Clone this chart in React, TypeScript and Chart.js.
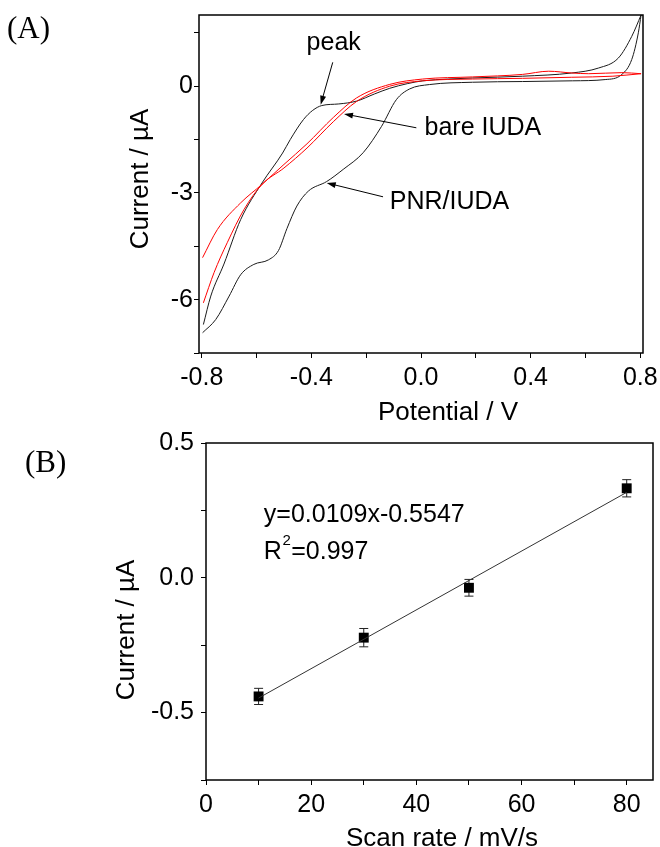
import React, { useEffect, useRef } from 'react';
import { Chart, registerables } from 'chart.js';

Chart.register(...registerables);

const SANS = '"Liberation Sans", Arial, Helvetica, sans-serif';
const SERIF = '"Liberation Serif", "Times New Roman", serif';

// ---------------- Panel (A): cyclic voltammograms ----------------
const bareFwdPotential = [-0.797, -0.743, -0.658, -0.58, -0.5, -0.416, -0.32, -0.235, -0.114, 0.006, 0.188, 0.37, 0.466, 0.55, 0.612, 0.733, 0.803];
const bareFwdCurrent = [-4.82, -4.03, -3.28, -2.76, -2.2, -1.62, -0.88, -0.33, 0.05, 0.2, 0.26, 0.33, 0.42, 0.37, 0.35, 0.38, 0.35];
const bareRevPotential = [-0.794, -0.755, -0.707, -0.646, -0.58, -0.5, -0.416, -0.32, -0.235, -0.114, 0.006, 0.188, 0.37, 0.55, 0.7, 0.803];
const bareRevCurrent = [-6.09, -5.24, -4.4, -3.47, -2.76, -2.3, -1.74, -1.0, -0.43, 0.0, 0.15, 0.2, 0.22, 0.25, 0.28, 0.35];

const pnrPeakPotential = [-0.794, -0.767, -0.719, -0.658, -0.58, -0.505, -0.477, -0.429, -0.395, -0.362, -0.3, -0.235, -0.17, -0.114, -0.05, 0.007, 0.1, 0.188, 0.37, 0.55, 0.648, 0.72, 0.769, 0.803];
const pnrPeakCurrent = [-6.7, -5.9, -5.0, -3.75, -2.72, -1.88, -1.5, -0.94, -0.68, -0.545, -0.5, -0.42, -0.22, -0.06, 0.07, 0.15, 0.2, 0.23, 0.28, 0.37, 0.51, 0.79, 1.4, 2.0];

const pnrWavePotential = [-0.797, -0.749, -0.7, -0.658, -0.61, -0.556, -0.52, -0.489, -0.453, -0.411, -0.344, -0.284, -0.211, -0.144, -0.09, -0.042, 0.031, 0.188, 0.37, 0.552, 0.672, 0.733, 0.769, 0.793, 0.803];
const pnrWaveCurrent = [-6.93, -6.56, -5.9, -5.3, -5.01, -4.88, -4.62, -4.0, -3.37, -2.95, -2.68, -2.34, -1.87, -1.13, -0.38, -0.08, 0.045, 0.11, 0.13, 0.15, 0.185, 0.33, 0.75, 1.5, 2.0];

const potentialTicks = [-0.8, -0.6, -0.4, -0.2, 0, 0.2, 0.4, 0.6, 0.8];
const potentialLabelValues = [-0.8, -0.4, 0, 0.4, 0.8];
const potentialLabels = ['-0.8', '-0.4', '0.0', '0.4', '0.8'];
const cvCurrentTicks = [-7.5, -6, -4.5, -3, -1.5, 0, 1.5];
const cvCurrentLabelValues = [-6, -3, 0];
const cvCurrentLabels = ['-6', '-3', '0'];

// ---------------- Panel (B): scan-rate dependence ----------------
const scanRates = [10, 30, 50, 80];
const peakCurrents = [-0.44, -0.222, -0.037, 0.332];
const peakErrors = [0.03, 0.034, 0.031, 0.032];
const fitScanRates = [10, 80];
const fitCurrents = [-0.446, 0.317];

const scanTicks = [0, 10, 20, 30, 40, 50, 60, 70, 80];
const scanLabelValues = [0, 20, 40, 60, 80];
const scanLabels = ['0', '20', '40', '60', '80'];
const rateCurrentTicks = [-0.75, -0.5, -0.25, 0, 0.25, 0.5];
const rateCurrentLabelValues = [-0.5, 0, 0.5];
const rateCurrentLabels = ['-0.5', '0.0', '0.5'];

const labelFor = (vals: number[], labels: string[]) => (v: any) => {
  const i = vals.findIndex((m) => Math.abs(m - Number(v)) < 1e-6);
  return i >= 0 ? labels[i] : '';
};

const toXY = (xs: number[], ys: number[]) => xs.map((x, i) => ({ x, y: ys[i] }));

function drawArrow(ctx: CanvasRenderingContext2D, x1: number, y1: number, x2: number, y2: number) {
  const ang = Math.atan2(y2 - y1, x2 - x1);
  const head = 9;
  const half = 3;
  ctx.save();
  ctx.strokeStyle = '#000';
  ctx.fillStyle = '#000';
  ctx.lineWidth = 1;
  ctx.beginPath();
  ctx.moveTo(x1, y1);
  ctx.lineTo(x2 - Math.cos(ang) * head * 0.7, y2 - Math.sin(ang) * head * 0.7);
  ctx.stroke();
  ctx.beginPath();
  ctx.moveTo(x2, y2);
  ctx.lineTo(x2 - head * Math.cos(ang) + half * Math.sin(ang), y2 - head * Math.sin(ang) - half * Math.cos(ang));
  ctx.lineTo(x2 - head * Math.cos(ang) - half * Math.sin(ang), y2 - head * Math.sin(ang) + half * Math.cos(ang));
  ctx.closePath();
  ctx.fill();
  ctx.restore();
}

function axisCommon(tickValues: number[], labelVals: number[], labels: string[], pad: number) {
  return {
    type: 'linear' as const,
    afterBuildTicks: (s: any) => {
      s.ticks = tickValues.map((v) => ({ value: v }));
    },
    ticks: {
      callback: labelFor(labelVals, labels),
      font: { family: SANS, size: 25 },
      color: '#000',
      padding: pad,
      maxRotation: 0,
      autoSkip: false,
    },
    grid: { drawOnChartArea: false, drawTicks: true, tickLength: 5, color: '#000', lineWidth: 1 },
    border: { display: false },
  };
}

const framePlugin = {
  id: 'frame',
  afterDatasetsDraw(chart: any) {
    const { ctx, chartArea: a } = chart;
    ctx.save();
    ctx.strokeStyle = '#000';
    ctx.lineWidth = 1.5;
    ctx.strokeRect(a.left, a.top, a.right - a.left, a.bottom - a.top);
    ctx.restore();
  },
};

export default function App() {
  const refA = useRef<HTMLCanvasElement>(null);
  const refB = useRef<HTMLCanvasElement>(null);

  useEffect(() => {
    if (!refA.current || !refB.current) return;

    const textA = {
      id: 'textA',
      afterDraw(chart: any) {
        const { ctx } = chart;
        const xs = chart.scales.x;
        const ys = chart.scales.y;
        const px = (v: number) => xs.getPixelForValue(v);
        const py = (v: number) => ys.getPixelForValue(v);
        ctx.save();
        ctx.fillStyle = '#000';
        ctx.textBaseline = 'middle';
        ctx.font = `26px ${SANS}`;
        ctx.textAlign = 'center';
        ctx.fillText('Potential / V', 448, 413);
        ctx.save();
        ctx.translate(141, 179);
        ctx.rotate(-Math.PI / 2);
        ctx.fillText('Current / µA', 0, 0);
        ctx.restore();
        // annotations
        ctx.font = `25px ${SANS}`;
        ctx.textAlign = 'center';
        ctx.fillText('peak', px(-0.3185), py(1.2));
        ctx.textAlign = 'left';
        ctx.fillText('bare IUDA', px(0.013), py(-1.19));
        ctx.fillText('PNR/IUDA', px(-0.114), py(-3.26));
        drawArrow(ctx, px(-0.322), py(0.67), px(-0.366), py(-0.52));
        drawArrow(ctx, px(-0.017), py(-1.17), px(-0.281), py(-0.78));
        drawArrow(ctx, px(-0.1385), py(-3.11), px(-0.344), py(-2.72));
        ctx.font = `31px ${SERIF}`;
        ctx.textAlign = 'left';
        ctx.fillText('(A)', 7, 30);
        ctx.restore();
      },
    };

    const chartA = new Chart(refA.current, {
      type: 'scatter',
      data: {
        datasets: [
          { data: toXY(bareFwdPotential, bareFwdCurrent), borderColor: '#ff0000' },
          { data: toXY(bareRevPotential, bareRevCurrent), borderColor: '#ff0000' },
          { data: toXY(pnrPeakPotential, pnrPeakCurrent), borderColor: '#1a1a1a' },
          { data: toXY(pnrWavePotential, pnrWaveCurrent), borderColor: '#1a1a1a' },
        ].map((d) => ({
          ...d,
          showLine: true,
          pointRadius: 0,
          borderWidth: 1,
          cubicInterpolationMode: 'monotone' as const,
        })),
      },
      options: {
        responsive: false,
        animation: false,
        events: [],
        layout: { padding: { top: 15, right: 17, left: 0, bottom: 0 } },
        plugins: { legend: { display: false }, tooltip: { enabled: false } },
        scales: {
          x: {
            ...axisCommon(potentialTicks, potentialLabelValues, potentialLabels, 5),
            min: -0.81,
            max: 0.81,
            afterFit: (s: any) => {
              s.height = 77;
              s.paddingLeft = 0;
              s.paddingRight = 0;
            },
          },
          y: {
            ...axisCommon(cvCurrentTicks, cvCurrentLabelValues, cvCurrentLabels, 1),
            min: -7.5,
            max: 2,
            afterFit: (s: any) => {
              s.width = 199;
              s.paddingTop = 0;
              s.paddingBottom = 0;
            },
          },
        },
      } as any,
      plugins: [framePlugin, textA],
    });

    const textB = {
      id: 'textB',
      beforeDatasetsDraw(chart: any) {
        const { ctx } = chart;
        const xs = chart.scales.x;
        const ys = chart.scales.y;
        ctx.save();
        ctx.strokeStyle = '#222';
        ctx.lineWidth = 1;
        scanRates.forEach((r, i) => {
          const x = xs.getPixelForValue(r);
          const y1 = ys.getPixelForValue(peakCurrents[i] + peakErrors[i]);
          const y2 = ys.getPixelForValue(peakCurrents[i] - peakErrors[i]);
          ctx.beginPath();
          ctx.moveTo(x, y1);
          ctx.lineTo(x, y2);
          ctx.moveTo(x - 4.5, y1);
          ctx.lineTo(x + 4.5, y1);
          ctx.moveTo(x - 4.5, y2);
          ctx.lineTo(x + 4.5, y2);
          ctx.stroke();
        });
        ctx.restore();
      },
      afterDraw(chart: any) {
        const { ctx } = chart;
        const xs = chart.scales.x;
        const ys = chart.scales.y;
        const px = (v: number) => xs.getPixelForValue(v);
        const py = (v: number) => ys.getPixelForValue(v);
        ctx.save();
        ctx.fillStyle = '#000';
        ctx.textBaseline = 'middle';
        ctx.font = `26px ${SANS}`;
        ctx.textAlign = 'center';
        ctx.fillText('Scan rate / mV/s', 442, 409);
        ctx.save();
        ctx.translate(127, 200);
        ctx.rotate(-Math.PI / 2);
        ctx.fillText('Current / µA', 0, 0);
        ctx.restore();
        ctx.textAlign = 'left';
        ctx.font = `25px ${SANS}`;
        const ex = px(11);
        ctx.fillText('y=0.0109x-0.5547', ex, py(0.233));
        const ry = py(0.0965);
        ctx.fillText('R', ex, ry);
        const rw = ctx.measureText('R').width;
        ctx.font = `15px ${SANS}`;
        ctx.fillText('2', ex + rw + 0.5, ry - 11);
        const sw = ctx.measureText('2').width;
        ctx.font = `25px ${SANS}`;
        ctx.fillText('=0.997', ex + rw + sw + 1, ry);
        ctx.font = `31px ${SERIF}`;
        ctx.fillText('(B)', 25, 34);
        ctx.restore();
      },
    };

    const chartB = new Chart(refB.current, {
      type: 'scatter',
      data: {
        datasets: [
          {
            data: toXY(fitScanRates, fitCurrents),
            showLine: true,
            pointRadius: 0,
            borderColor: '#333',
            borderWidth: 1,
          },
          {
            data: toXY(scanRates, peakCurrents),
            showLine: false,
            pointStyle: 'rect',
            pointRadius: 7,
            backgroundColor: '#000',
            borderColor: '#000',
            borderWidth: 0,
          },
        ],
      },
      options: {
        responsive: false,
        animation: false,
        events: [],
        layout: { padding: { top: 13, right: 2, left: 0, bottom: 0 } },
        plugins: { legend: { display: false }, tooltip: { enabled: false } },
        scales: {
          x: {
            ...axisCommon(scanTicks, scanLabelValues, scanLabels, 5),
            min: 0,
            max: 85,
            afterFit: (s: any) => {
              s.height = 67;
              s.paddingLeft = 0;
              s.paddingRight = 0;
            },
          },
          y: {
            ...axisCommon(rateCurrentTicks, rateCurrentLabelValues, rateCurrentLabels, 7),
            min: -0.75,
            max: 0.5,
            afterFit: (s: any) => {
              s.width = 206;
              s.paddingTop = 0;
              s.paddingBottom = 0;
            },
          },
        },
      } as any,
      plugins: [framePlugin, textB],
    });

    return () => {
      chartA.destroy();
      chartB.destroy();
    };
  }, []);

  return (
    <div style={{ position: 'absolute', left: 0, top: 0, width: 660, height: 847, background: '#fff' }}>
      <canvas ref={refA} width={660} height={430} style={{ position: 'absolute', left: 0, top: 0 }} />
      <canvas ref={refB} width={660} height={417} style={{ position: 'absolute', left: 0, top: 430 }} />
    </div>
  );
}
